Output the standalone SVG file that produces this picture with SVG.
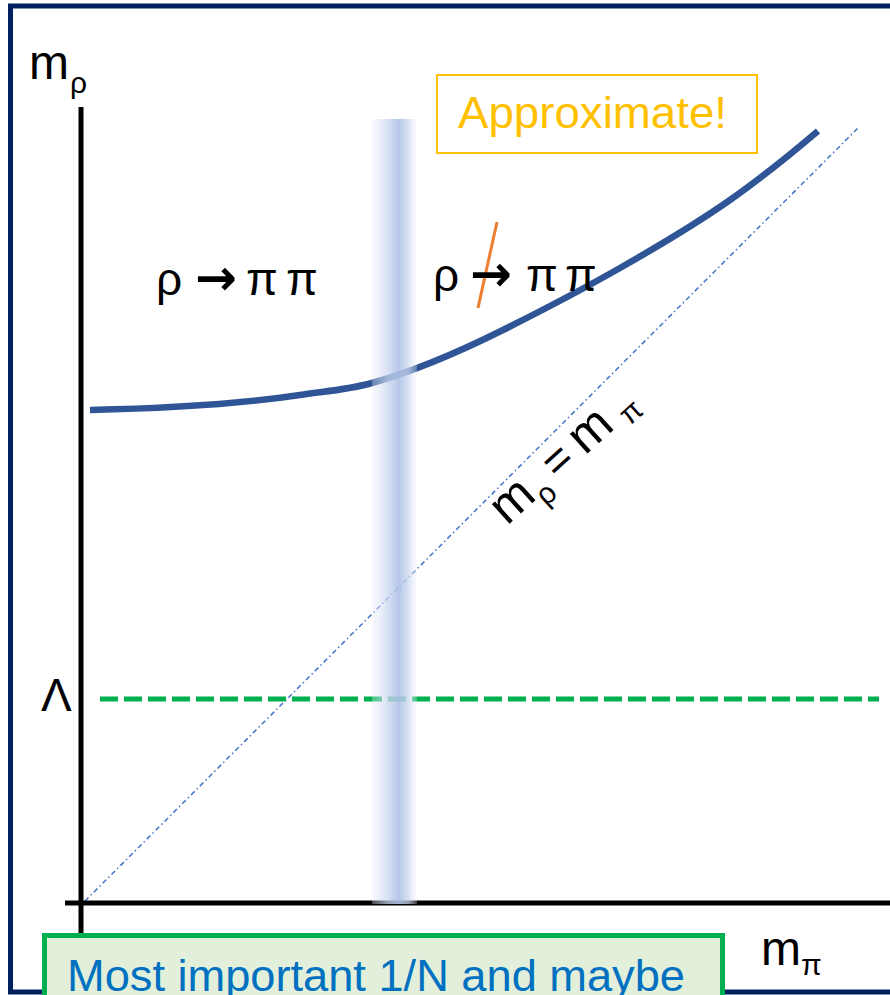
<svg xmlns="http://www.w3.org/2000/svg" width="890" height="995" viewBox="0 0 890 995">
<style>
  .lbl { font-family: "Liberation Sans", Arial, sans-serif; fill: #000; }
  .arr { font-family: "DejaVu Sans", sans-serif; font-weight: bold; fill: #000; }
  .axis { stroke: #000; stroke-width: 5; fill: none; }
</style>
<defs>
  <linearGradient id="band" x1="0" y1="0" x2="1" y2="0">
    <stop offset="0" stop-color="#e6ecf7" stop-opacity="0.3"/>
    <stop offset="0.35" stop-color="#c9d6ef" stop-opacity="0.75"/>
    <stop offset="0.6" stop-color="#aec1e5" stop-opacity="0.92"/>
    <stop offset="0.8" stop-color="#c9d6ef" stop-opacity="0.75"/>
    <stop offset="1" stop-color="#eef2f9" stop-opacity="0.25"/>
  </linearGradient>
</defs>
<rect x="0" y="0" width="890" height="995" fill="#fff"/>
<g id="frame">
  <rect x="10.5" y="6" width="900" height="986" fill="none" stroke="#002060" stroke-width="5"/>
</g>
<g id="connectors">
  <line id="diag" x1="85" y1="901" x2="858" y2="128" stroke="#4472C4" stroke-width="1.5" stroke-dasharray="5 3 1.5 3"/>
  <line id="lambda-line" x1="100" y1="699" x2="879" y2="699" stroke="#00B050" stroke-width="5" stroke-dasharray="18 6"/>
  <path id="curve" d="M90,410 C160,408.6 230,405.5 300,395 C324,391.4 348,389.7 372,383 C415.7,370.8 459.3,351.8 503,330 C542,310.5 581,290.2 620,268 C656.7,247.1 693.3,225.7 730,200 C759.3,179.5 788.7,155.9 818,131" fill="none" stroke="#2F5597" stroke-width="6.5"/>
  <line id="y-axis" class="axis" x1="81" y1="107" x2="81" y2="936"/>
  <line id="x-axis" class="axis" x1="65" y1="903" x2="890" y2="903"/>
  <rect id="band-rect" x="372" y="119" width="45" height="785" fill="url(#band)"/>
  <line id="slash" x1="497" y1="222" x2="478" y2="308" stroke="#ED7D31" stroke-width="3"/>
</g>
<g id="label-mrho">
  <text class="lbl" x="29" y="79" font-size="48">m</text>
  <text class="lbl" x="70" y="93" font-size="30">ρ</text>
</g>
<g id="label-lambda">
  <text class="lbl" x="41" y="711" font-size="46">Λ</text>
</g>
<g id="label-mpi">
  <text class="lbl" x="761" y="965" font-size="48">m</text>
  <text class="lbl" x="801" y="975" font-size="30">π</text>
</g>
<g id="approx">
  <rect x="437" y="75" width="320" height="78" fill="#fff" stroke="#FFC000" stroke-width="2"/>
  <text x="458" y="128" font-family="Liberation Sans, Arial, sans-serif" font-size="45" fill="#FFC000" textLength="269" lengthAdjust="spacingAndGlyphs">Approximate!</text>
</g>
<g id="decay-left">
  <text class="lbl" x="156" y="295" font-size="46">ρ</text>
  <text class="arr" x="195" y="295" font-size="50">→</text>
  <text class="lbl" x="246" y="295" font-size="46">π</text>
  <text class="lbl" x="286" y="295" font-size="46">π</text>
</g>
<g id="decay-right">
  <text class="lbl" x="433" y="291" font-size="46">ρ</text>
  <text class="arr" x="470" y="291" font-size="50">→</text>
  <text class="lbl" x="526" y="291" font-size="46">π</text>
  <text class="lbl" x="565" y="291" font-size="46">π</text>
</g>
<g id="diag-label" transform="translate(507,526) rotate(-42)">
  <text class="lbl" x="0" y="0" font-size="50">m</text>
  <text class="lbl" x="42" y="12" font-size="30">ρ</text>
  <text class="lbl" x="68" y="0" font-size="46">=</text>
  <text class="lbl" x="105" y="0" font-size="50">m</text>
  <text class="lbl" x="158" y="8" font-size="30">π</text>
</g>
<g id="note">
  <rect x="44.5" y="935.5" width="678" height="80" fill="#E2EFDA" stroke="#00B050" stroke-width="5"/>
  <text x="67" y="991" font-family="Liberation Sans, Arial, sans-serif" font-size="45" fill="#0070C0" textLength="618" lengthAdjust="spacingAndGlyphs">Most important 1/N and maybe</text>
</g>
</svg>
